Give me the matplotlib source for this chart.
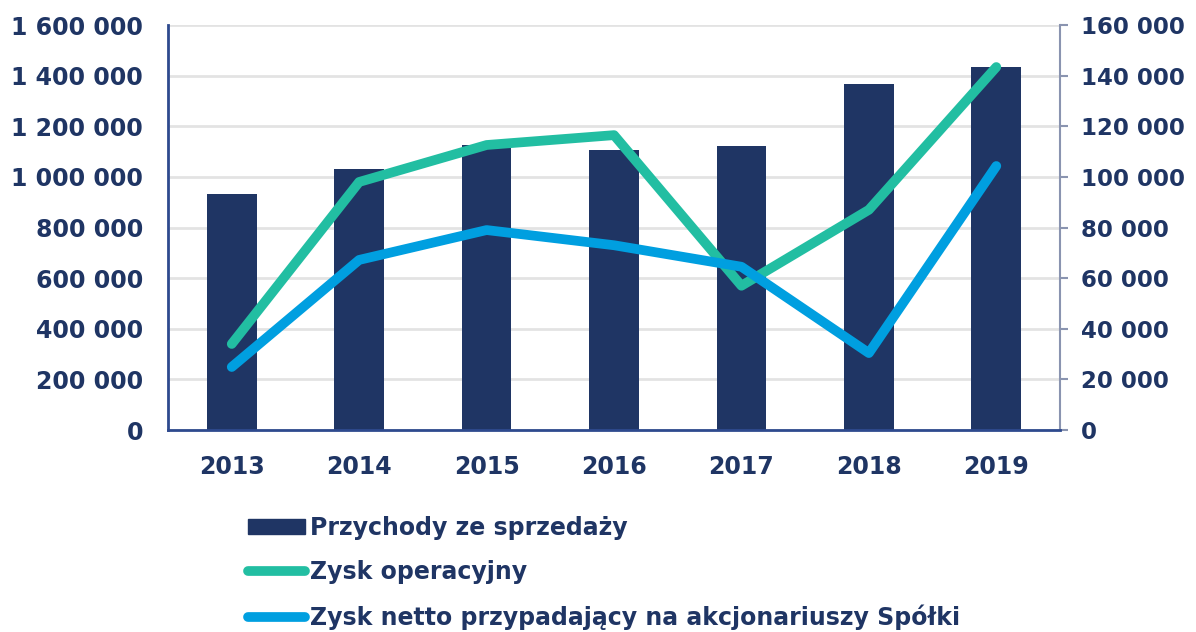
import matplotlib
matplotlib.use("Agg")
import matplotlib.pyplot as plt
from matplotlib.patches import Patch
from matplotlib.lines import Line2D
from matplotlib.ticker import FuncFormatter, MultipleLocator

years = ["2013", "2014", "2015", "2016", "2017", "2018", "2019"]
revenue = [932000, 1031000, 1126000, 1106000, 1122000, 1367000, 1434000]
operating_profit = [34000, 98000, 112600, 116500, 57000, 87000, 143400]
net_profit = [24900, 67200, 79000, 73000, 64500, 30400, 104300]
series_labels = ["Przychody ze sprzedaży", "Zysk operacyjny",
                 "Zysk netto przypadający na akcjonariuszy Spółki"]

NAVY = "#1F3564"
GREEN = "#22BEA2"
BLUE = "#009FE0"
TEXT = "#1F3564"
GRID = "#E3E3E3"

plt.rcParams['font.family'] = ['DejaVu Sans']
plt.rcParams['font.weight'] = 'bold'

fig = plt.figure(figsize=(11.96, 6.32), dpi=100)
ax = fig.add_axes([0.1405, 0.3196, 0.7458, 0.6408])
ax2 = ax.twinx()

x = list(range(len(years)))
ax.bar(x, revenue, width=0.39, color=NAVY, zorder=2)
ax.set_xlim(-0.5, len(years) - 0.5)
ax.set_ylim(0, 1600000)
ax.yaxis.set_major_locator(MultipleLocator(200000))
ax2.set_ylim(0, 160000)
ax2.yaxis.set_major_locator(MultipleLocator(20000))

fmt = FuncFormatter(lambda v, p: f"{int(round(v)):,}".replace(",", " "))
ax.yaxis.set_major_formatter(fmt)
ax2.yaxis.set_major_formatter(fmt)

ax.grid(axis='y', color=GRID, linewidth=2, zorder=0)
ax.set_axisbelow(True)

ax2.plot(x, operating_profit, color=GREEN, linewidth=7, solid_capstyle='round',
         solid_joinstyle='round', zorder=3)
ax2.plot(x, net_profit, color=BLUE, linewidth=7, solid_capstyle='round',
         solid_joinstyle='round', zorder=3)

ax.set_xticks(x)
ax.set_xticklabels(years)
ax.tick_params(axis='x', length=0, pad=18, labelsize=17, labelcolor=TEXT)
ax.tick_params(axis='y', length=0, pad=18, labelsize=17, labelcolor=TEXT)
ax2.tick_params(axis='y', length=6, width=1.5, color="#8A94B0", pad=9,
                labelsize=16.5, labelcolor=TEXT)

for a in (ax, ax2):
    a.spines['top'].set_visible(False)
ax.spines['right'].set_visible(False)
ax2.spines['left'].set_color("#2E4A8E")
ax2.spines['left'].set_linewidth(2)
ax2.spines['bottom'].set_color("#2E4A8E")
ax2.spines['bottom'].set_linewidth(2)
ax2.spines['right'].set_color("#8A94B0")
ax2.spines['right'].set_linewidth(1.5)
ax.spines['left'].set_visible(False)
ax.spines['bottom'].set_visible(False)

handles = [Patch(facecolor=NAVY, edgecolor=NAVY),
           Line2D([0], [0], color=GREEN, linewidth=7, solid_capstyle='round'),
           Line2D([0], [0], color=BLUE, linewidth=7, solid_capstyle='round')]
leg = fig.legend(handles, series_labels, loc='upper left',
                 bbox_to_anchor=(0.207, 0.1835), bbox_transform=fig.transFigure,
                 frameon=False, fontsize=17, handlelength=2.45, handleheight=0.6,
                 handletextpad=0.2, labelspacing=0.85, borderaxespad=0,
                 borderpad=0)
for t in leg.get_texts():
    t.set_color(TEXT)
    t.set_fontweight('bold')

fig.savefig("out.png", dpi=100)
